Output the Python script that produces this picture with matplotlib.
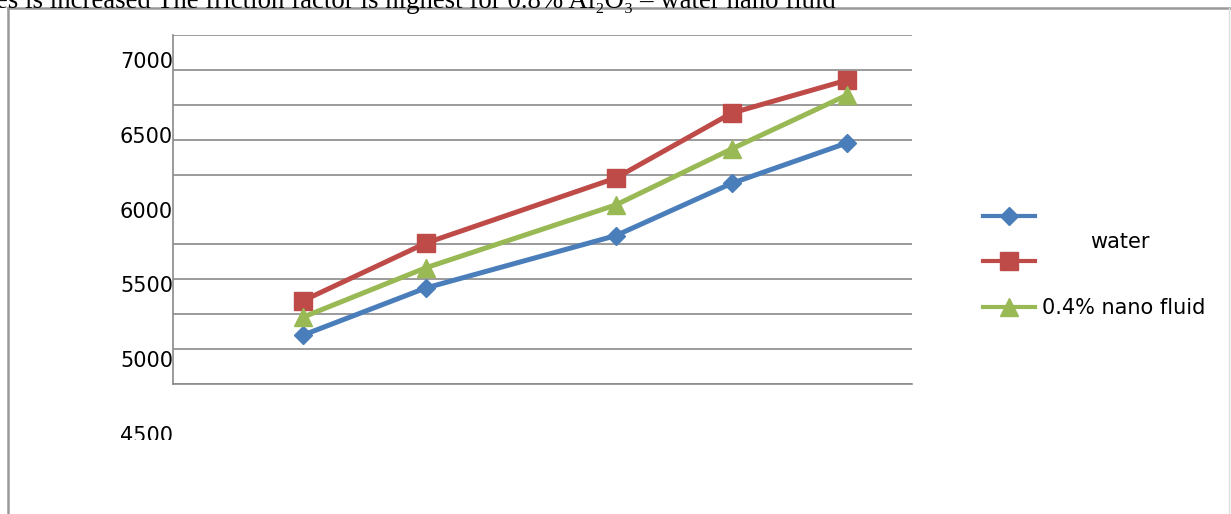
import matplotlib
matplotlib.use("Agg")
import matplotlib.pyplot as plt
from matplotlib.patches import Rectangle
import numpy as np

# series values read along the horizontal axis (no x labels are printed)
x_vals = [1.76, 3.42, 5.99, 7.56, 9.12]
water = [5160, 5475, 5825, 6175, 6445]
series_red = [5390, 5775, 6210, 6645, 6865]
nano_04 = [5280, 5610, 6030, 6405, 6765]

y_ticks = [5000, 5500, 6000, 6500, 7000]
y_ticks_extra = 4500
legend_labels = ['', '', '0.4% nano fluid']

blue = '#4a7ebb'
red = '#be4b48'
green = '#98b954'
grid_c = '#8a8a8a'

fig = plt.figure(figsize=(12.31, 5.14), dpi=100)
W, H = 1231, 514

ax = fig.add_axes([173 / W, 1 - 384 / H, (912 - 173) / W, (384 - 35) / H])
ylo, yhi = 4833, 7167
ax.set_ylim(ylo, yhi)
ax.set_xlim(0, 10)

l1, = ax.plot(x_vals, water, color=blue, lw=3.6, marker='D', ms=9.5, mec=blue, mfc=blue, zorder=3)
l2, = ax.plot(x_vals, series_red, color=red, lw=3.6, marker='s', ms=13, mec=red, mfc=red, zorder=3)
l3, = ax.plot(x_vals, nano_04, color=green, lw=3.6, marker='^', ms=13, mec=green, mfc=green, zorder=3)

# gridlines split the plot into ten bands, independent of the labelled ticks
ax.set_yticks(np.linspace(ylo, yhi, 11), minor=True)
ax.yaxis.grid(True, which='minor', color=grid_c, lw=1.2)
ax.tick_params(axis='y', which='minor', length=0)
ax.set_yticks(y_ticks)
ax.set_yticklabels([str(v) for v in y_ticks], fontsize=15)
ax.tick_params(axis='y', which='major', length=0, pad=0)
ax.set_xticks([])
for s in ['top', 'right']:
    ax.spines[s].set_visible(False)
for s in ['left', 'bottom']:
    ax.spines[s].set_color(grid_c)
    ax.spines[s].set_linewidth(1.2)

# 4500 sits below the plot and is cut off partway down
t45 = ax.text(0, y_ticks_extra, str(y_ticks_extra), fontsize=15, ha='right', va='center_baseline',
              transform=ax.get_yaxis_transform())
clip = Rectangle((0, 1 - 440 / H), 1, 440 / H, transform=fig.transFigure)
t45.set_clip_path(clip)
t45.set_clip_on(True)

leg = fig.legend([l1, l2, l3], legend_labels, loc='upper left', bbox_to_anchor=(975 / W, 1 - 199 / H),
                 frameon=False, fontsize=15, handlelength=2.5, handletextpad=0.3,
                 labelspacing=1.22, borderaxespad=0)
for h in leg.legend_handles:
    h.set_linewidth(3)
    h.set_markersize(h.get_markersize() * 0.95)
fig.text(1090 / W, 1 - 242 / H, 'water', fontsize=15, va='center')

# page frame and the body text running above the chart
fig.add_artist(plt.Line2D([8 / W, 8 / W], [0, 1 - 8 / H], color='#999999', lw=1.8))
fig.add_artist(plt.Line2D([8 / W, 1], [1 - 8 / H, 1 - 8 / H], color='#999999', lw=1.8))
fig.add_artist(plt.Line2D([1229 / W, 1229 / W], [0, 1 - 8 / H], color='#dddddd', lw=1))
fig.text(-4 / W, 1 - 8 / H, 'es is increased The friction factor is highest for 0.8% Al\u2082O\u2083 \u2013 water nano fluid',
         fontsize=19.3, family=['Liberation Serif', 'DejaVu Serif'], va='baseline', ha='left')

fig.savefig('out.png', dpi=100)
